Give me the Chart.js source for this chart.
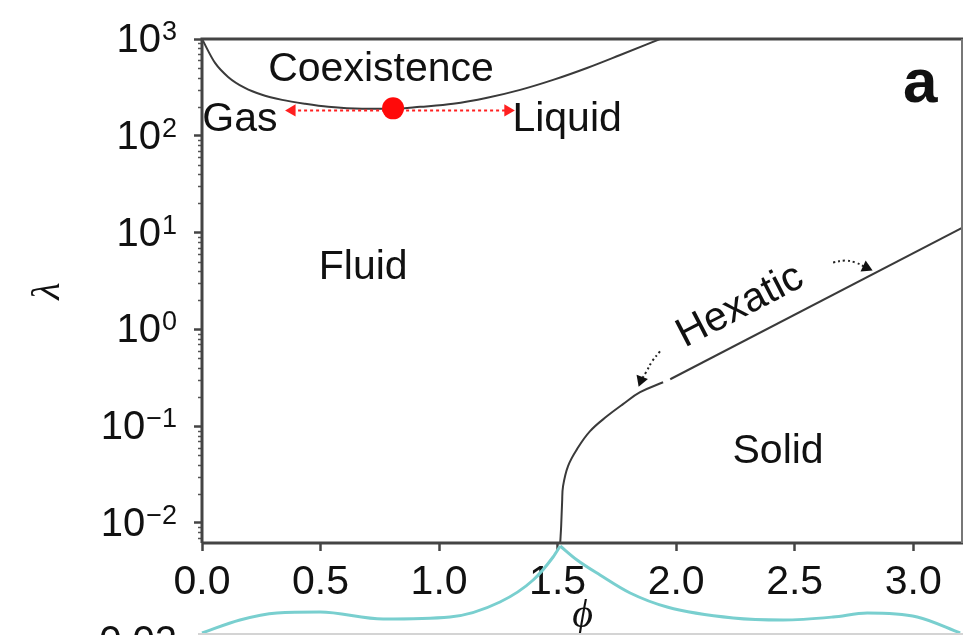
<!DOCTYPE html>
<html>
<head>
<meta charset="utf-8">
<script src="https://cdn.jsdelivr.net/npm/chart.js@4.4.0/dist/chart.umd.min.js"></script>
<style>
  html, body { margin: 0; background: #fff; }
  canvas { display: block; }
</style>
</head>
<body>
<canvas id="phase" width="965" height="635"></canvas>
<script>
const phiTicks = [0, 0.5, 1, 1.5, 2, 2.5, 3];
const lamTicks = [0.01, 0.1, 1, 10, 100, 1000];
const lamTickExp = ['−2', '−1', '0', '1', '2', '3'];

// gas-liquid coexistence boundary
const coexPhi = [0, 0.055, 0.11, 0.181, 0.253, 0.338, 0.435, 0.532, 0.675, 0.814, 0.92, 1.059, 1.203, 1.342, 1.481, 1.624, 1.764, 1.932];
const coexLam = [1000, 566, 406, 312, 265, 235, 214, 199, 190, 190, 199, 214, 247, 298, 378, 502, 684, 1000];

// fluid-hexatic boundary, then the hexatic-solid line right next to it
const solidPhi = [1.511, 1.515, 1.519, 1.523, 1.544, 1.582, 1.637, 1.709, 1.776, 1.848, 1.945];
const solidLam = [0.0062, 0.0093, 0.0164, 0.024, 0.0387, 0.0579, 0.0887, 0.127, 0.169, 0.224, 0.284];
const hexPhi = [1.975, 3.21];
const hexLam = [0.305, 11.3];

// critical point and the gas / liquid arrows
const critPhi = [0.806];
const critLam = [192];
const gasLiqPhi = [0.38, 1.29];
const gasLiqLam = [183, 183];

// dotted arrows pointing at the thin hexatic band
const arrowLowPhi = [1.932, 1.899, 1.873, 1.852];
const arrowLowLam = [0.593, 0.468, 0.36, 0.298];
const arrowHighPhi = [2.662, 2.713, 2.755, 2.802];
const arrowHighLam = [4.91, 5.14, 4.91, 4.35];

// panel b curve showing underneath, left and right of the cusp
const bLeftPhi = [0, 0.16, 0.316, 0.498, 0.764, 1.046, 1.257, 1.397, 1.481, 1.511];
const bLeftVal = [0.0212, 0.0225, 0.0232, 0.0233, 0.0226, 0.0228, 0.0243, 0.0265, 0.0288, 0.0299];
const bRightPhi = [1.511, 1.582, 1.679, 1.806, 1.962, 2.241, 2.451, 2.662, 2.806, 3.017, 3.198];
const bRightVal = [0.0299, 0.0285, 0.027, 0.0252, 0.0238, 0.0227, 0.0225, 0.0228, 0.0232, 0.0228, 0.0212];
const bFrameVal = 0.0212;

const SANS = '"Liberation Sans", Arial, Helvetica, sans-serif';
const SERIF = '"Liberation Serif", "Times New Roman", serif';
const INK = '#111';
const LINE = '#3a3a3a';

const pts = (xs, ys) => xs.map((x, i) => ({ x: x, y: ys[i] }));

// region names, placed in data coordinates
const notes = [
  { text: 'Coexistence', phi: 0.755, lam: 479 },
  { text: 'Gas', phi: 0.16, lam: 146 },
  { text: 'Liquid', phi: 1.54, lam: 146 },
  { text: 'Fluid', phi: 0.68, lam: 4.35 },
  { text: 'Solid', phi: 2.43, lam: 0.054 },
  { text: 'Hexatic', phi: 2.27, lam: 1.73, alongHex: true }
];

const phaseDecor = {
  id: 'phaseDecor',
  afterDatasetsDraw(chart) {
    const { ctx, chartArea: a, scales } = chart;
    const x = scales.x, y = scales.y, yb = scales.yb;
    ctx.save();

    // minor ticks on the log axis
    ctx.strokeStyle = '#555';
    ctx.lineWidth = 1.5;
    for (let e = -3; e < 3; e++) {
      for (let k = 2; k < 10; k++) {
        const v = k * Math.pow(10, e);
        if (v < y.min || v > y.max) continue;
        const py = Math.round(y.getPixelForValue(v)) + 0.5;
        ctx.beginPath();
        ctx.moveTo(a.left - 4, py);
        ctx.lineTo(a.left, py);
        ctx.stroke();
      }
    }

    // 10^n labels with a raised exponent
    ctx.fillStyle = INK;
    ctx.textAlign = 'right';
    ctx.textBaseline = 'alphabetic';
    const labelRight = a.left - 25;
    lamTicks.forEach((v, i) => {
      const py = y.getPixelForValue(v);
      ctx.font = '27px ' + SANS;
      const w = ctx.measureText(lamTickExp[i]).width;
      ctx.fillText(lamTickExp[i], labelRight, py + 1);
      ctx.font = '40px ' + SANS;
      ctx.fillText('10', labelRight - w - 1, py + 13);
    });

    // frame
    ctx.strokeStyle = '#444';
    ctx.lineWidth = 3;
    ctx.beginPath();
    ctx.moveTo(a.left, a.bottom);
    ctx.lineTo(a.left, a.top);
    ctx.lineTo(a.right, a.top);
    ctx.moveTo(a.left, a.bottom);
    ctx.lineTo(a.right, a.bottom);
    ctx.stroke();
    ctx.strokeStyle = '#777';
    ctx.lineWidth = 2;
    ctx.beginPath();
    ctx.moveTo(a.right - 1, a.top);
    ctx.lineTo(a.right - 1, a.bottom);
    ctx.stroke();

    // top edge of panel b
    const fy = yb.getPixelForValue(bFrameVal);
    ctx.strokeStyle = '#d4d4d4';
    ctx.lineWidth = 2;
    ctx.beginPath();
    ctx.moveTo(a.left - 4, fy + 1);
    ctx.lineTo(a.right, fy + 1);
    ctx.stroke();

    ctx.font = '40px ' + SANS;
    ctx.textBaseline = 'middle';
    ctx.fillText('0.02', a.left - 25, yb.getPixelForValue(0.02) - 2);

    // region names
    const hexAngle = Math.atan2(
      y.getPixelForValue(hexLam[1]) - y.getPixelForValue(hexLam[0]),
      x.getPixelForValue(hexPhi[1]) - x.getPixelForValue(hexPhi[0])
    );
    ctx.textAlign = 'center';
    ctx.font = '41px ' + SANS;
    notes.forEach(n => {
      ctx.save();
      ctx.translate(x.getPixelForValue(n.phi), y.getPixelForValue(n.lam));
      if (n.alongHex) ctx.rotate(hexAngle);
      ctx.fillText(n.text, 0, 0);
      ctx.restore();
    });

    ctx.font = 'bold 62px ' + SANS;
    ctx.fillText('a', x.getPixelForValue(3.03), y.getPixelForValue(336));
    ctx.restore();
  }
};

new Chart(document.getElementById('phase'), {
  type: 'line',
  data: {
    datasets: [
      {
        data: pts(critPhi, critLam), showLine: false, order: 0,
        pointRadius: 11, pointBackgroundColor: '#ff0a0a', pointBorderWidth: 0
      },
      {
        data: pts(gasLiqPhi, gasLiqLam), order: 1,
        borderColor: '#ff2020', borderWidth: 2, borderDash: [3, 3],
        pointStyle: 'triangle', pointRadius: 7, pointRotation: [270, 90],
        pointBackgroundColor: '#ff2020', pointBorderWidth: 0
      },
      {
        data: pts(coexPhi, coexLam), order: 2,
        borderColor: LINE, borderWidth: 2, pointRadius: 0,
        cubicInterpolationMode: 'monotone'
      },
      {
        data: pts(solidPhi, solidLam), order: 2,
        borderColor: LINE, borderWidth: 2, pointRadius: 0,
        tension: 0.4
      },
      {
        data: pts(hexPhi, hexLam), order: 2,
        borderColor: LINE, borderWidth: 2, pointRadius: 0
      },
      {
        data: pts(arrowLowPhi, arrowLowLam), order: 2,
        borderColor: '#222', borderWidth: 2, borderDash: [2, 3], tension: 0.4,
        pointStyle: 'triangle', pointRadius: [0, 0, 0, 7], pointRotation: [0, 0, 0, 200],
        pointBackgroundColor: '#111', pointBorderWidth: 0
      },
      {
        data: pts(arrowHighPhi, arrowHighLam), order: 2,
        borderColor: '#222', borderWidth: 2, borderDash: [2, 3], tension: 0.4,
        pointStyle: 'triangle', pointRadius: [0, 0, 0, 7], pointRotation: [0, 0, 0, 115],
        pointBackgroundColor: '#111', pointBorderWidth: 0
      },
      {
        data: pts(bLeftPhi, bLeftVal), yAxisID: 'yb', clip: false, order: 3,
        borderColor: '#79cfcf', borderWidth: 3, pointRadius: 0,
        cubicInterpolationMode: 'monotone'
      },
      {
        data: pts(bRightPhi, bRightVal), yAxisID: 'yb', clip: false, order: 3,
        borderColor: '#79cfcf', borderWidth: 3, pointRadius: 0,
        cubicInterpolationMode: 'monotone'
      }
    ]
  },
  options: {
    responsive: false,
    animation: false,
    layout: { autoPadding: false, padding: { left: 0, right: 2, top: 39, bottom: 0 } },
    plugins: { legend: { display: false }, tooltip: { enabled: false } },
    scales: {
      x: {
        type: 'linear', position: 'bottom', min: 0, max: 3.21,
        border: { display: false },
        grid: { drawOnChartArea: false, tickLength: 8, tickWidth: 2.5, tickColor: '#444' },
        ticks: {
          color: INK, padding: 7, maxRotation: 0, autoSkip: false,
          font: { family: SANS, size: 41 },
          callback: v => v.toFixed(1)
        },
        afterBuildTicks: s => { s.ticks = phiTicks.map(v => ({ value: v })); },
        afterFit: s => { s.height = 92; s.paddingLeft = 0; s.paddingRight = 0; },
        title: {
          display: true, text: 'ϕ', color: INK,
          font: { family: SERIF, style: 'italic', size: 40, lineHeight: 0.8 },
          padding: { top: 0, bottom: 3 }
        }
      },
      y: {
        type: 'logarithmic', position: 'left', min: 0.0062, max: 1000,
        border: { display: false },
        grid: { drawOnChartArea: false, tickLength: 8, tickWidth: 2.5, tickColor: '#444' },
        ticks: { display: false },
        afterBuildTicks: s => { s.ticks = lamTicks.map(v => ({ value: v, major: true })); },
        afterFit: s => { s.width = 202; s.paddingTop = 0; s.paddingBottom = 0; },
        title: {
          display: true, text: 'λ', color: INK,
          font: { family: SERIF, style: 'italic', size: 40, lineHeight: 0.8 },
          padding: { top: 32, bottom: 0 }
        }
      },
      yb: { type: 'linear', display: false, min: 0.0302, max: 0.0806 }
    }
  },
  plugins: [phaseDecor]
});
</script>
</body>
</html>
